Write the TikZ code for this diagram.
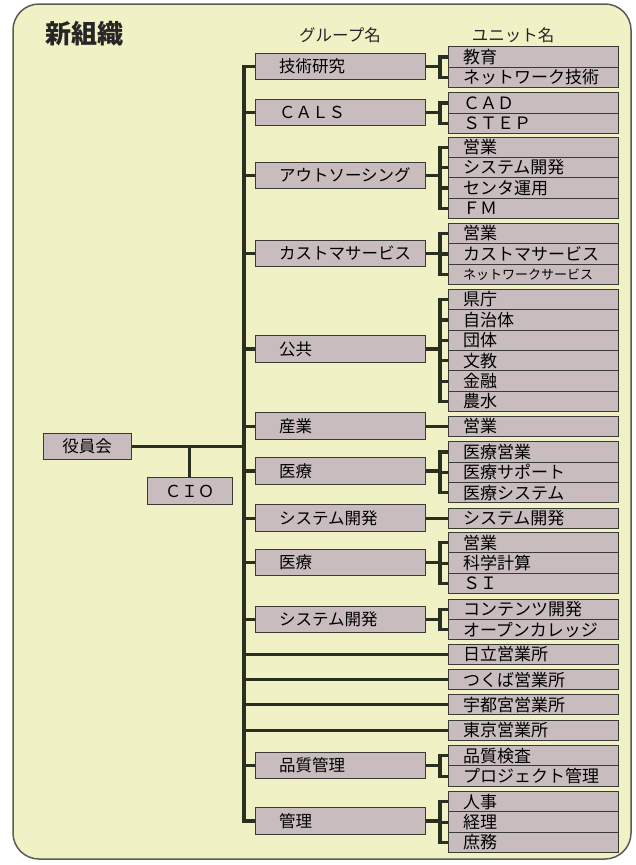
\documentclass[tikz,border=0pt]{standalone}
\usepackage{fontspec}
\newfontfamily\cjk{Noto Sans CJK JP}
\definecolor{bgc}{HTML}{F1F1C6}
\definecolor{boxc}{HTML}{C8BCBF}
\definecolor{linec}{HTML}{2A3020}
\definecolor{edgec}{HTML}{3A3A34}
\definecolor{outc}{HTML}{5A5A55}
\pgfdeclarelayer{back}
\pgfdeclarelayer{mid}
\pgfsetlayers{back,mid,main}
\tikzset{
  conn/.style={draw=linec, line width=3.2pt, line cap=rect},
  grpbox/.style={draw=edgec, fill=boxc, line width=1pt, minimum height=26.5pt,
    text width=170pt, inner xsep=0pt, inner ysep=0pt, align=left,
    font=\cjk\fontsize{16.5pt}{18pt}\selectfont},
  unitbox/.style={draw=edgec, fill=boxc, line width=1pt, minimum height=20.4pt,
    text width=170pt, inner xsep=0pt, inner ysep=0pt, align=left,
    font=\cjk\fontsize{17pt}{18pt}\selectfont},
  topbox/.style={draw=edgec, fill=boxc, line width=1pt, minimum height=26.5pt,
    inner sep=0pt, font=\cjk\fontsize{16.5pt}{18pt}\selectfont},
  headtxt/.style={font=\cjk\fontsize{16.5pt}{18pt}\selectfont, text=black!85},
}
\newcommand\gt[1]{\hspace*{24pt}#1}
\newcommand\ut[1]{\hspace*{15pt}#1}
\begin{document}
\begin{tikzpicture}[x=1pt,y=-1pt]
\useasboundingbox (0,0) rectangle (636,865);
\begin{pgfonlayer}{back}
\draw[draw=outc, line width=1.5pt, fill=bgc, rounded corners=26pt] (13,4) rectangle (631,859);
\end{pgfonlayer}

% title and headers
\node[anchor=west, font=\cjk\bfseries\fontsize{26pt}{28pt}\selectfont, text=black!85] (title) at (42,33.5) {新組織};
\node[headtxt] (hg) at (340,35) {グループ名};
\node[headtxt] (hu) at (513,35) {ユニット名};

% left boxes
\node[topbox, minimum width=88pt] (yaku) at (87,446.5) {役員会};
\node[topbox, minimum width=85pt] (cio) at (189.5,491) {ＣＩＯ};

% groups
\node[grpbox] (g1) at (340,66.5) {\gt{技術研究}};
\node[grpbox] (g2) at (340,112.5) {\gt{ＣＡＬＳ}};
\node[grpbox] (g3) at (340,175.5) {\gt{アウトソーシング}};
\node[grpbox] (g4) at (340,253.5) {\gt{カストマサービス}};
\node[grpbox] (g5) at (340,349) {\gt{公共}};
\node[grpbox] (g6) at (340,426.2) {\gt{産業}};
\node[grpbox] (g7) at (340,471) {\gt{医療}};
\node[grpbox] (g8) at (340,518.2) {\gt{システム開発}};
\node[grpbox] (g9) at (340,562.5) {\gt{医療}};
\node[grpbox] (g10) at (340,619.5) {\gt{システム開発}};
\node[grpbox] (g11) at (340,765.5) {\gt{品質管理}};
\node[grpbox] (g12) at (340,821) {\gt{管理}};

% units
\node[unitbox] (u1a) at (533,56.9) {\ut{教育}};
\node[unitbox] (u1b) at (533,77.3) {\ut{ネットワーク技術}};
\node[unitbox] (u2a) at (533,102.9) {\ut{ＣＡＤ}};
\node[unitbox] (u2b) at (533,123.3) {\ut{ＳＴＥＰ}};
\node[unitbox] (u3a) at (533,147.2) {\ut{営業}};
\node[unitbox] (u3b) at (533,167.6) {\ut{システム開発}};
\node[unitbox] (u3c) at (533,188.0) {\ut{センタ運用}};
\node[unitbox] (u3d) at (533,208.4) {\ut{ＦＭ}};
\node[unitbox] (u4a) at (533,233.5) {\ut{営業}};
\node[unitbox] (u4b) at (533,253.9) {\ut{カストマサービス}};
\node[unitbox] (u4c) at (533,274.3) {\ut{\fontsize{13pt}{15pt}\selectfont ネットワークサービス}};
\node[unitbox] (u5a) at (533,299.5) {\ut{県庁}};
\node[unitbox] (u5b) at (533,319.9) {\ut{自治体}};
\node[unitbox] (u5c) at (533,340.3) {\ut{団体}};
\node[unitbox] (u5d) at (533,360.7) {\ut{文教}};
\node[unitbox] (u5e) at (533,381.1) {\ut{金融}};
\node[unitbox] (u5f) at (533,401.5) {\ut{農水}};
\node[unitbox] (u6) at (533,426.2) {\ut{営業}};
\node[unitbox] (u7a) at (533,451.9) {\ut{医療営業}};
\node[unitbox] (u7b) at (533,472.3) {\ut{医療サポート}};
\node[unitbox] (u7c) at (533,492.7) {\ut{医療システム}};
\node[unitbox] (u8) at (533,518.2) {\ut{システム開発}};
\node[unitbox] (u9a) at (533,542.7) {\ut{営業}};
\node[unitbox] (u9b) at (533,563.1) {\ut{科学計算}};
\node[unitbox] (u9c) at (533,583.5) {\ut{ＳＩ}};
\node[unitbox] (u10a) at (533,609.2) {\ut{コンテンツ開発}};
\node[unitbox] (u10b) at (533,629.6) {\ut{オープンカレッジ}};
\node[unitbox] (u11) at (533,654.2) {\ut{日立営業所}};
\node[unitbox] (u12) at (533,679.7) {\ut{つくば営業所}};
\node[unitbox] (u13) at (533,704.7) {\ut{宇都宮営業所}};
\node[unitbox] (u14) at (533,730.2) {\ut{東京営業所}};
\node[unitbox] (u15a) at (533,755.7) {\ut{品質検査}};
\node[unitbox] (u15b) at (533,776.1) {\ut{プロジェクト管理}};
\node[unitbox] (u16a) at (533,801.7) {\ut{人事}};
\node[unitbox] (u16b) at (533,822.1) {\ut{経理}};
\node[unitbox] (u16c) at (533,842.5) {\ut{庶務}};

\coordinate (trunk) at (244,0);
\coordinate (br) at (440,0);

\begin{pgfonlayer}{mid}
% trunk
\draw[conn] (trunk |- g1) -- (trunk |- g12);
\foreach \g in {g1,g2,g3,g4,g5,g6,g7,g8,g9,g10,g11,g12}
  \draw[conn] (trunk |- \g) -- (\g.west);
\foreach \u in {u11,u12,u13,u14}
  \draw[conn] (trunk |- \u) -- (\u.west);
% board and CIO
\draw[conn] (yaku.east) -- (trunk |- yaku);
\draw[conn] (cio.north |- yaku) -- (cio.north);
% single units
\draw[conn] (g6.east) -- (u6.west);
\draw[conn] (g8.east) -- (u8.west);
% brackets
\foreach \g/\first/\last/\list in {
  g1/u1a/u1b/{u1a,u1b},
  g2/u2a/u2b/{u2a,u2b},
  g3/u3a/u3d/{u3a,u3b,u3c,u3d},
  g4/u4a/u4c/{u4a,u4b,u4c},
  g5/u5a/u5f/{u5a,u5b,u5c,u5d,u5e,u5f},
  g7/u7a/u7c/{u7a,u7b,u7c},
  g9/u9a/u9c/{u9a,u9b,u9c},
  g10/u10a/u10b/{u10a,u10b},
  g11/u15a/u15b/{u15a,u15b},
  g12/u16a/u16c/{u16a,u16b,u16c}} {
  \draw[conn] (\g.east) -- (br |- \g);
  \draw[conn] (br |- \first) -- (br |- \last);
  \foreach \u in \list
    \draw[conn] (br |- \u) -- (\u.west);
}
\end{pgfonlayer}
\end{tikzpicture}
\end{document}
